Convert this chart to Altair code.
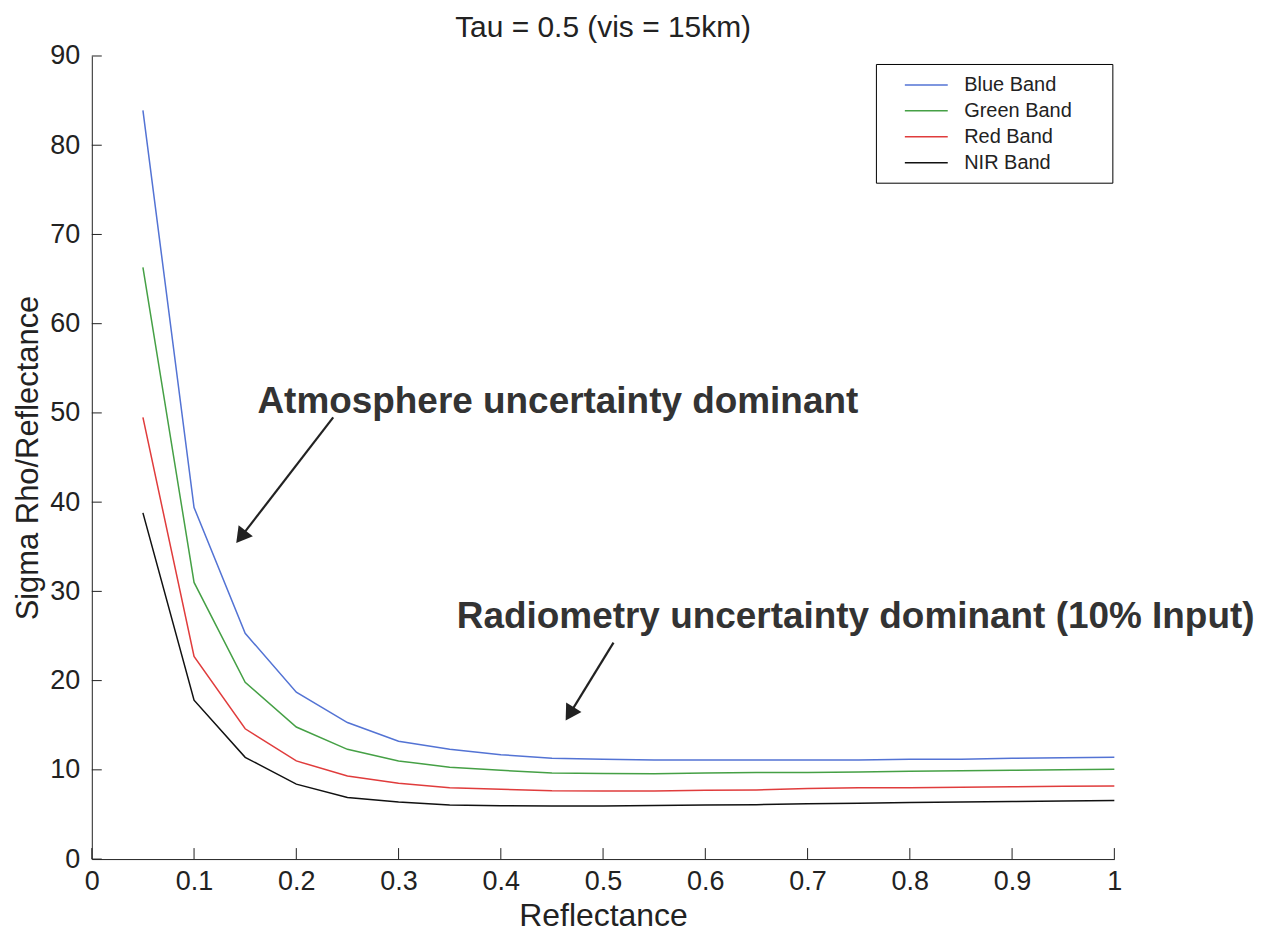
import altair as alt
import pandas as pd

# ---- data ----
reflectance = [0.05, 0.10, 0.15, 0.20, 0.25, 0.30, 0.35, 0.40, 0.45, 0.50,
               0.55, 0.60, 0.65, 0.70, 0.75, 0.80, 0.85, 0.90, 0.95, 1.00]
blue = [83.9, 39.4, 25.3, 18.7, 15.3, 13.2, 12.3, 11.7, 11.3, 11.2,
        11.1, 11.1, 11.1, 11.1, 11.1, 11.2, 11.2, 11.3, 11.35, 11.4]
green = [66.3, 31.0, 19.8, 14.8, 12.3, 11.0, 10.3, 9.95, 9.65, 9.6,
         9.55, 9.65, 9.7, 9.7, 9.76, 9.84, 9.9, 9.95, 10.0, 10.06]
red = [49.5, 22.7, 14.6, 11.0, 9.3, 8.5, 8.0, 7.83, 7.65, 7.64,
       7.64, 7.7, 7.75, 7.9, 8.0, 8.0, 8.05, 8.1, 8.15, 8.2]
nir = [38.8, 17.8, 11.4, 8.4, 6.9, 6.4, 6.07, 5.98, 5.95, 5.95,
       6.0, 6.05, 6.1, 6.2, 6.25, 6.35, 6.4, 6.45, 6.5, 6.55]

bands = ["Blue Band", "Green Band", "Red Band", "NIR Band"]
band_colors = ["#5373d4", "#45a045", "#e03c3c", "#111111"]

x_ticks = [0, 0.1, 0.2, 0.3, 0.4, 0.5, 0.6, 0.7, 0.8, 0.9, 1.0]
y_ticks = [0, 10, 20, 30, 40, 50, 60, 70, 80, 90]

ann_text = ["Atmosphere uncertainty dominant",
            "Radiometry uncertainty dominant (10% Input)"]
ann_x = [0.162, 0.357]
ann_y = [49.94, 25.9]

arrow_x = [0.2361, 0.5102]
arrow_y = [49.5, 24.26]
arrow_x2 = [0.1459, 0.4674]
arrow_y2 = [36.1, 16.27]
arrow_angle = [217.6, 211.6]

FONT = "Liberation Sans"
INK = "#222222"
PAD = "\u2800\u2800"

# ---- tables ----
rows = []
for name, vals in zip(bands, [blue, green, red, nir]):
    for xv, yv in zip(reflectance, vals):
        rows.append({"refl": xv, "sigma": yv, "band": name})
lines_df = pd.DataFrame(rows)
ann_df = pd.DataFrame({"x": ann_x, "y": ann_y, "t": ann_text})
arr_df = pd.DataFrame({"x": arrow_x, "y": arrow_y, "x2": arrow_x2,
                       "y2": arrow_y2, "ang": arrow_angle})
xt_df = pd.DataFrame({"x": x_ticks})
yt_df = pd.DataFrame({"y": y_ticks})

xscale = alt.Scale(domain=[0, 1], nice=False, zero=False)
yscale = alt.Scale(domain=[0, 90], nice=False, zero=False)

x_axis = alt.Axis(values=x_ticks, format="~g", title="Reflectance",
                  grid=False, ticks=False, tickSize=0, labelPadding=10,
                  titlePadding=6, labelFlush=False, labelOverlap=False,
                  labelFontSize=27, titleFontSize=32, titleFontWeight="normal",
                  labelFont=FONT, titleFont=FONT, labelColor=INK,
                  titleColor=INK, domainColor=INK)
y_axis = alt.Axis(values=y_ticks, format="d", title="Sigma Rho/Reflectance",
                  grid=False, ticks=False, tickSize=0, labelPadding=12,
                  titlePadding=5, labelFlush=False, labelOverlap=False,
                  labelFontSize=27, titleFontSize=31, titleFontWeight="normal",
                  labelFont=FONT, titleFont=FONT, labelColor=INK,
                  titleColor=INK, domainColor=INK)

X = lambda f: alt.X(f, type="quantitative", scale=xscale, axis=x_axis)
Y = lambda f: alt.Y(f, type="quantitative", scale=yscale, axis=y_axis)

lines = alt.Chart(lines_df).mark_line(strokeWidth=1.5).encode(
    x=X("refl"),
    y=Y("sigma"),
    color=alt.Color(
        "band:N",
        scale=alt.Scale(domain=bands, range=band_colors),
        sort=bands,
        legend=alt.Legend(
            title=None, orient="none", legendX=786, legendY=8,
            strokeColor="#000000", fillColor="white", padding=10,
            symbolType="M-2.15,0H2.15", symbolSize=400,
            symbolStrokeWidth=1.5, symbolOffset=29.5, labelOffset=27,
            labelFontSize=20, labelFont=FONT, labelColor=INK, rowPadding=5,
            labelExpr="datum.label + '" + PAD + "'",
        ),
    ),
    detail="band:N",
)

xticks = alt.Chart(xt_df).mark_rule(color=INK, strokeWidth=1).encode(
    x=X("x"), y=alt.value(805), y2=alt.value(794))
yticks = alt.Chart(yt_df).mark_rule(color=INK, strokeWidth=1).encode(
    y=Y("y"), x=alt.value(0), x2=alt.value(10))

texts = alt.Chart(ann_df).mark_text(
    align="left", baseline="alphabetic", fontSize=37, fontWeight="bold",
    font=FONT, color="#333333").encode(x=X("x"), y=Y("y"), text="t:N")

arrows = alt.Chart(arr_df).mark_rule(strokeWidth=2.2, color=INK).encode(
    x=X("x"), y=Y("y"), x2="x2:Q", y2="y2:Q")
heads = alt.Chart(arr_df).mark_point(
    shape="triangle-up", filled=True, size=324, color=INK, opacity=1).encode(
    x=X("x2"), y=Y("y2"), angle=alt.Angle("ang:Q", scale=None))

chart = alt.layer(lines, xticks, yticks, arrows, heads, texts).properties(
    width=1025, height=805,
    title=alt.TitleParams("Tau = 0.5 (vis = 15km)", fontSize=30, font=FONT,
                          fontWeight="normal", color=INK, anchor="middle",
                          offset=-1),
    autosize=alt.AutoSizeParams(type="none"),
    padding={"left": 84, "top": 47, "right": 145, "bottom": 72},
    background="white",
).configure_view(stroke=None).configure_axis(
    grid=False, domainColor=INK, domainWidth=1, titleFontWeight="normal",
)

chart.save("out.html", embed_options={"renderer": "svg", "actions": False})
